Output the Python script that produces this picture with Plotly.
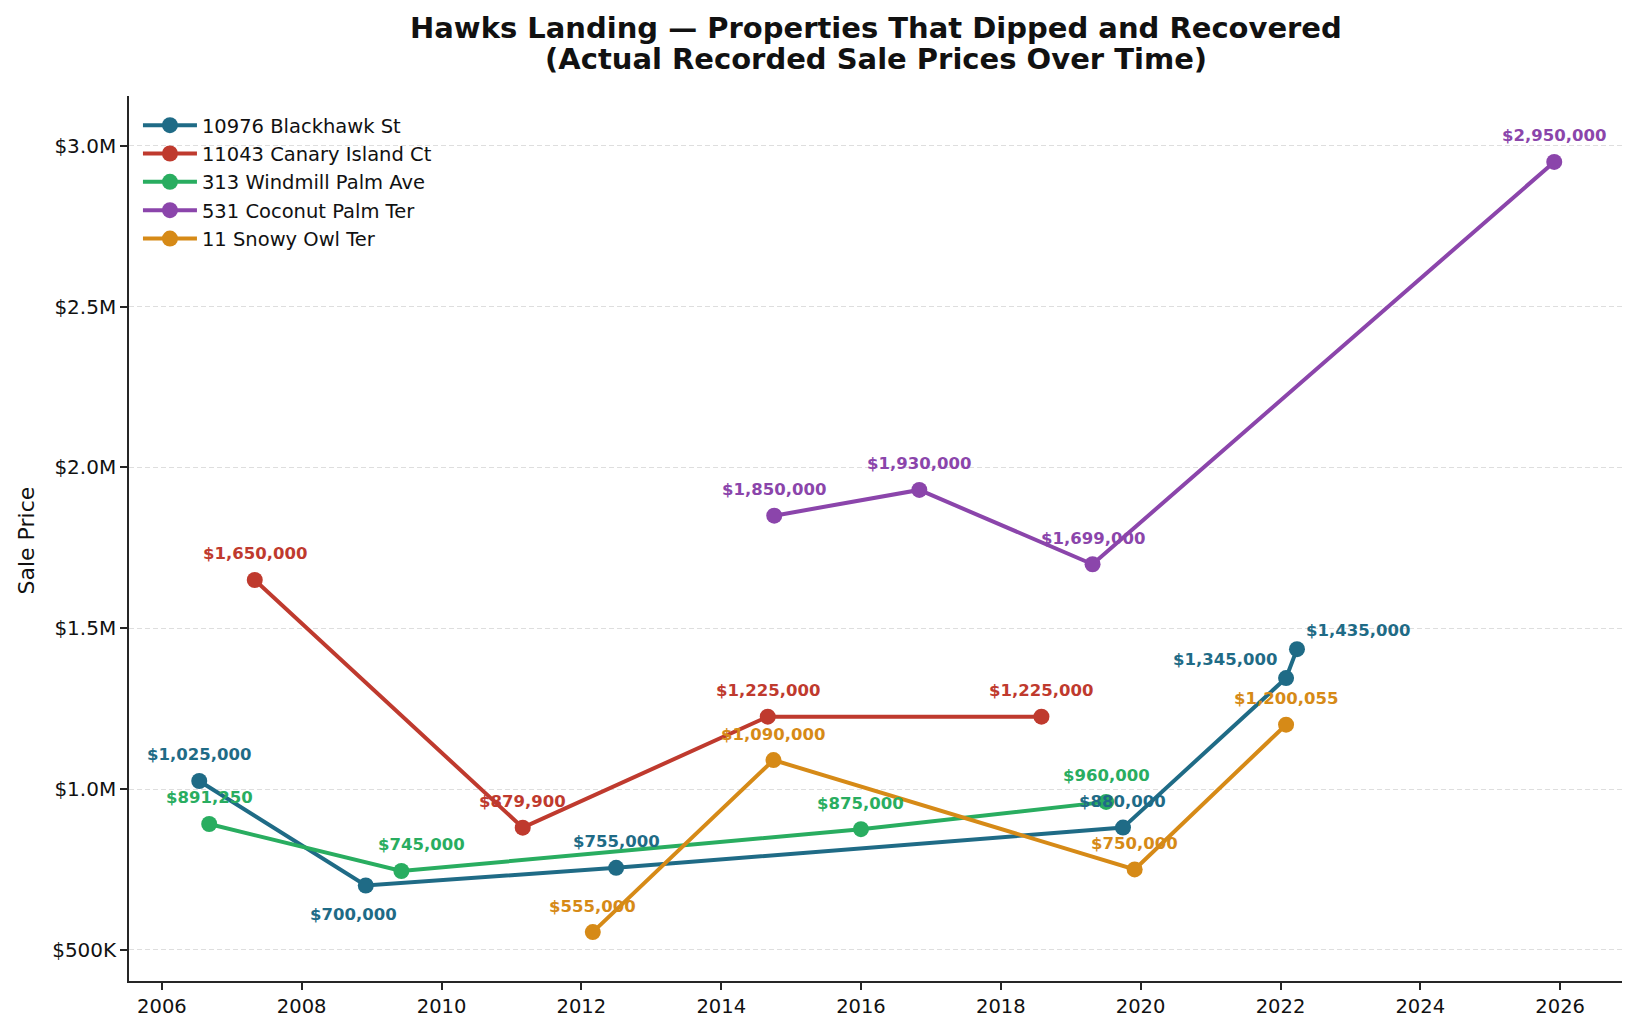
import plotly.graph_objects as go

# ---------------- data ----------------
names = ["10976 Blackhawk St", "11043 Canary Island Ct", "313 Windmill Palm Ave",
         "531 Coconut Palm Ter", "11 Snowy Owl Ter"]
colors = ["#1f6b86", "#bf3a2e", "#29ad60", "#8b45ab", "#d68a17"]

blackhawk_dates = ["2006-07-15", "2008-12-01", "2012-07-01", "2019-10-01", "2022-01-30", "2022-03-28"]
blackhawk_prices = [1025000, 700000, 755000, 880000, 1345000, 1435000]

canary_dates = ["2007-05-01", "2011-03-01", "2014-09-01", "2018-08-01"]
canary_prices = [1650000, 879900, 1225000, 1225000]

windmill_dates = ["2006-09-05", "2009-06-05", "2016-01-01", "2019-07-05"]
windmill_prices = [891250, 745000, 875000, 960000]

coconut_dates = ["2014-10-05", "2016-11-01", "2019-04-25", "2025-12-01"]
coconut_prices = [1850000, 1930000, 1699000, 2950000]

snowy_dates = ["2012-03-01", "2014-10-01", "2019-12-01", "2022-01-30"]
snowy_prices = [555000, 1090000, 750000, 1200055]

series_dates = [blackhawk_dates, canary_dates, windmill_dates, coconut_dates, snowy_dates]
series_prices = [blackhawk_prices, canary_prices, windmill_prices, coconut_prices, snowy_prices]

x_tick_vals = [f"{y}-01-01" for y in range(2006, 2027, 2)]
x_tick_text = [str(y) for y in range(2006, 2027, 2)]
y_tick_vals = [500000, 1000000, 1500000, 2000000, 2500000, 3000000]
y_tick_text = ["$500K", "$1.0M", "$1.5M", "$2.0M", "$2.5M", "$3.0M"]

# label placement (style only): (xanchor, xshift, yshift) overrides, default above-centred
label_override = {
    (0, 1): ("center", -12, -29),
    (0, 4): ("right", -7, 19),
    (0, 5): ("left", 7, 19),
    (2, 1): ("center", 20, 27),
}

FONT = "DejaVu Sans"

fig = go.Figure()
annotations = []
for i, (name, col, xs, ys) in enumerate(zip(names, colors, series_dates, series_prices)):
    fig.add_trace(go.Scatter(
        x=xs, y=ys, name=name, mode="lines+markers",
        line=dict(color=col, width=4),
        marker=dict(color=col, size=16),
    ))
    for j, (xv, yv) in enumerate(zip(xs, ys)):
        xa, xsh, ysh = label_override.get((i, j), ("center", 0, 26))
        annotations.append(dict(
            x=xv, y=yv, xref="x", yref="y", text=f"${yv:,.0f}",
            showarrow=False, xanchor=xa, yanchor="middle",
            xshift=xsh, yshift=ysh,
            font=dict(family=FONT, size=16.5, color=col, weight="bold"),
        ))

PLOT_TOP, PLOT_BOT = 96, 984
H = PLOT_BOT - PLOT_TOP

# title lines and y-axis label
annotations.append(dict(
    text="Hawks Landing — Properties That Dipped and Recovered",
    xref="paper", yref="paper", x=0.5, y=(PLOT_BOT - 28) / H, xanchor="center", yanchor="middle",
    showarrow=False, font=dict(family=FONT, size=29, color="#111111", weight="bold")))
annotations.append(dict(
    text="(Actual Recorded Sale Prices Over Time)",
    xref="paper", yref="paper", x=0.5, y=(PLOT_BOT - 59) / H, xanchor="center", yanchor="middle",
    showarrow=False, font=dict(family=FONT, size=29, color="#111111", weight="bold")))
annotations.append(dict(
    text="Sale Price", xref="paper", yref="paper", x=(26 - 129) / 1493, y=(PLOT_BOT - 542) / H,
    xanchor="center", yanchor="middle", textangle=-90, showarrow=False,
    font=dict(family=FONT, size=22, color="#111111")))

fig.update_layout(
    width=1637, height=1030,
    margin=dict(l=129, r=15, t=PLOT_TOP, b=1030 - PLOT_BOT),
    paper_bgcolor="white", plot_bgcolor="white",
    font=dict(family=FONT, color="#111111"),
    annotations=annotations,
    showlegend=True,
    legend=dict(x=0.006, y=(PLOT_BOT - 106) / H, xanchor="left", yanchor="top",
                itemwidth=54,
                bgcolor="rgba(255,255,255,0)", borderwidth=0,
                font=dict(family=FONT, size=19.5, color="#111111")),
    xaxis=dict(
        type="date", range=["2005-07-13", "2026-11-20"],
        tickvals=x_tick_vals, ticktext=x_tick_text,
        showgrid=False, zeroline=False,
        showline=True, linecolor="#262626", linewidth=1.6,
        ticks="outside", ticklen=7, tickwidth=1.6, tickcolor="#262626",
        tickfont=dict(family=FONT, size=19.5, color="#111111"),
    ),
    yaxis=dict(
        range=[403000, 3155000],
        tickvals=y_tick_vals, ticktext=y_tick_text,
        showgrid=True, gridcolor="#dedede", gridwidth=1, griddash="5px,3px",
        zeroline=False,
        showline=True, linecolor="#262626", linewidth=1.6,
        ticks="outside", ticklen=7, tickwidth=1.6, tickcolor="#262626",
        tickfont=dict(family=FONT, size=20, color="#111111"),
    ),
)

fig.write_html("out.html")
